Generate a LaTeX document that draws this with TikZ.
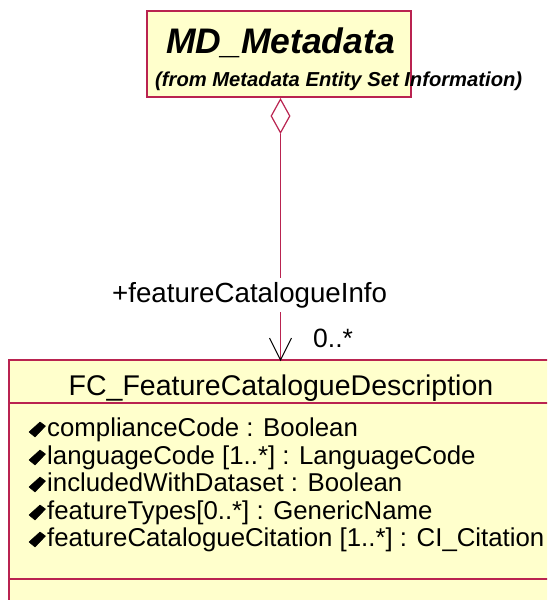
\documentclass[tikz,border=0pt]{standalone}
\usepackage{fontspec}
\setmainfont{Liberation Sans}
\newfontfamily\titlefont{Liberation Sans}
\newfontfamily\subfont{Liberation Sans}
\newfontfamily\lblfont{Liberation Sans}
\newfontfamily\hdrfont{Liberation Sans}
\newfontfamily\attrfont{Liberation Sans}
\usetikzlibrary{shapes.geometric}
\definecolor{umlline}{RGB}{185,35,80}
\definecolor{umlfill}{RGB}{255,255,204}
\tikzset{
  classbox/.style={draw=umlline, fill=umlfill, line width=1.2pt, rectangle, inner sep=0pt},
  txt/.style={inner sep=0pt, text=black},
  sepline/.style={draw=umlline, line width=1.2pt},
  conn/.style={draw=umlline, line width=1.2pt},
  attrmark/.style={fill=black, draw=black, line width=0.5pt, line join=round},
}
\begin{document}
\begin{tikzpicture}[x=1pt,y=-1pt]
\useasboundingbox (0,0) rectangle (547,600);
\clip (0,0) rectangle (547,600);
% top class
\node[classbox, minimum width=264pt, minimum height=86pt] (md) at (279,54) {};
\node[txt, anchor=base] (mdname) at (280.5,53) {\titlefont\fontsize{35.5}{36}\selectfont\bfseries\itshape MD\_Metadata};
\node[txt, anchor=base west] (mdfrom) at (155,86) {\subfont\fontsize{20.2}{20}\selectfont\bfseries\itshape (from Metadata Entity Set Information)};
% aggregation diamond
\node[draw=umlline, fill=white, line width=1.2pt, diamond, inner sep=0pt, minimum width=19pt, minimum height=34pt, aspect=0.56] (agg) at (280.5,116) {};
% bottom class
\node[classbox, minimum width=544pt, minimum height=270pt] (fc) at (281,495) {};
\coordinate (tip) at (280.5,360);
\draw[conn] (agg.south) -- (tip);
\draw[sepline] (9,403) -- (553,403);
\draw[sepline] (9,579) -- (553,579);
% arrowhead
\draw[black, line width=1pt, line join=miter] ([xshift=-11pt,yshift=22pt]tip) -- (tip) -- ([xshift=11pt,yshift=22pt]tip);
% role labels
\node[txt, anchor=base west, fill=white, inner sep=4pt] (role) at (108,302) {\lblfont\fontsize{27.7}{28}\selectfont +featureCatalogueInfo};
\node[txt, anchor=base west] (mult) at (313,347) {\lblfont\fontsize{26.5}{27}\selectfont 0..*};
% header
\node[txt, anchor=base] (fcname) at (281,395) {\hdrfont\fontsize{28.5}{29}\selectfont FC\_FeatureCatalogueDescription};
% attributes
\foreach \y/\t [count=\i] in {436/{complianceCode : Boolean},
  464/{languageCode [1..*] : LanguageCode},
  491/{includedWithDataset : Boolean},
  519/{featureTypes[0..*] : GenericName},
  546/{featureCatalogueCitation [1..*] : CI\_Citation}}{
  \node[txt, anchor=base west] (attr\i) at (47,\y) {\attrfont\fontsize{25.8}{26}\selectfont \t};
  \fill[attrmark] (29,\y-4) -- (40,\y-14) -- (45.5,\y-10) -- (35,\y+1) -- cycle;
}
\end{tikzpicture}
\end{document}
